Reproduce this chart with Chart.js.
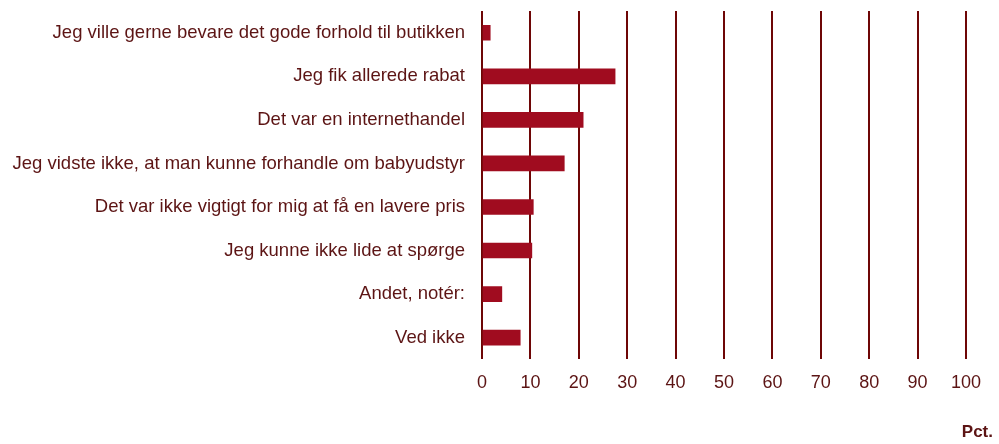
<!DOCTYPE html>
<html>
<head>
<meta charset="utf-8">
<script src="https://cdn.jsdelivr.net/npm/chart.js@4"></script>
<style>
  html, body { margin: 0; padding: 0; background: #fff; }
  #wrap { width: 999px; height: 444px; }
</style>
</head>
<body>
<div id="wrap"><canvas id="chart"></canvas></div>
<script>
// Data
const categories = [
  'Jeg ville gerne bevare det gode forhold til butikken',
  'Jeg fik allerede rabat',
  'Det var en internethandel',
  'Jeg vidste ikke, at man kunne forhandle om babyudstyr',
  'Det var ikke vigtigt for mig at få en lavere pris',
  'Jeg kunne ikke lide at spørge',
  'Andet, notér:',
  'Ved ikke'
];
const values = [1.7, 27.5, 20.9, 17.0, 10.6, 10.3, 4.1, 7.9];
const axisTitle = 'Pct.';

const textColor = '#5c1414';
const gridColor = '#6e0606';
const barColor = '#a00c1f';
const fontFamily = '"Liberation Sans", Arial, sans-serif';

// "Pct." label in the bottom right corner
const unitLabel = {
  id: 'unitLabel',
  afterDraw(chart) {
    const c = chart.ctx;
    c.save();
    c.font = 'bold 17px ' + fontFamily;
    c.fillStyle = textColor;
    c.textAlign = 'right';
    c.textBaseline = 'middle';
    c.fillText(axisTitle, 993, 432);
    c.restore();
  }
};

new Chart(document.getElementById('chart'), {
  type: 'bar',
  data: {
    labels: categories,
    datasets: [{
      data: values,
      backgroundColor: barColor,
      barThickness: 15
    }]
  },
  options: {
    indexAxis: 'y',
    responsive: true,
    maintainAspectRatio: false,
    animation: false,
    layout: { padding: { top: 11, right: 33, bottom: 37, left: 0 } },
    plugins: { legend: { display: false }, tooltip: { enabled: false } },
    scales: {
      x: {
        min: 0,
        max: 100,
        ticks: {
          stepSize: 10,
          color: textColor,
          padding: 13,
          font: { family: fontFamily, size: 18 }
        },
        grid: { color: gridColor, lineWidth: 2, drawTicks: false },
        border: { display: false }
      },
      y: {
        ticks: {
          color: textColor,
          padding: 17,
          font: { family: fontFamily, size: 18.5 }
        },
        grid: { display: false, drawTicks: false },
        border: { display: false },
        afterFit(scale) {
          scale.width = 482;
          scale.paddingTop = 0;
          scale.paddingBottom = 0;
        }
      }
    }
  },
  plugins: [unitLabel]
});
</script>
</body>
</html>
